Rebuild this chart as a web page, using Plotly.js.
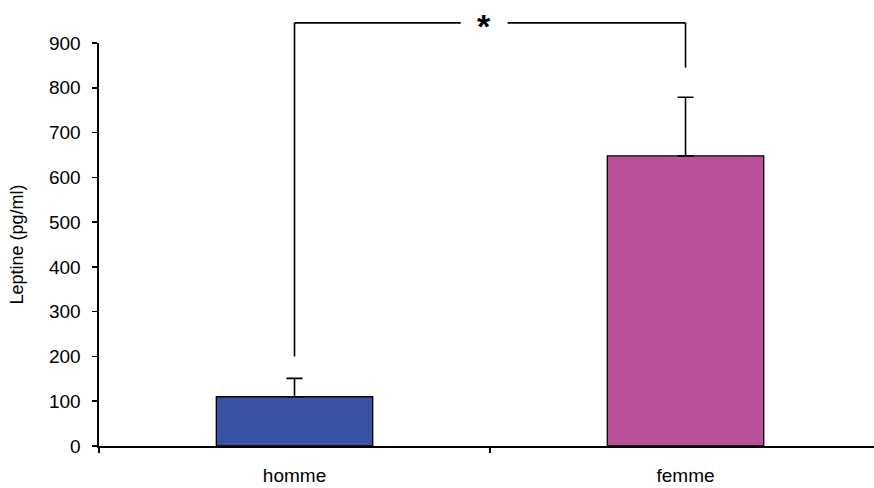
<!DOCTYPE html>
<html>
<head>
<meta charset="utf-8">
<script src="https://cdn.plot.ly/plotly-3.0.1.min.js"></script>
<style>html,body{margin:0;padding:0;background:#fff;}#chart{width:874px;height:488px;}</style>
</head>
<body>
<div id="chart"></div>
<script>
// Data
const categories = ["homme", "femme"];
const leptine = [110, 648];          // mean (pg/ml)
const errorPlus = [41, 131];         // upper error bar
const barColors = ["#3953A4", "#B8519A"];
const yTicks = [0, 100, 200, 300, 400, 500, 600, 700, 800, 900];

// significance bracket (values in pg/ml, categories indices)
const bracketFeet = [200, 845];      // lower end of left / right legs
const bracketTop = 945;
const starLabel = "*";

const yMax = 900;
const xRange = [-0.5, 1.482];
const xBoundaries = [-0.5, 0.5];     // category boundaries with tick marks
const font = "Liberation Sans, Arial, sans-serif";

// helpers converting data to paper coords (same mapping as the axes)
const px = c => (c - xRange[0]) / (xRange[1] - xRange[0]);
const py = v => v / yMax;

const trace = {
  type: "bar",
  x: categories,
  y: leptine,
  width: 0.4,
  marker: { color: barColors, line: { color: "#000", width: 1.3 } },
  error_y: {
    type: "data", array: errorPlus, arrayminus: [0, 0], symmetric: false,
    color: "#000", thickness: 1.6, width: 8
  },
  hoverinfo: "skip"
};

// invisible trace on an overlay axis to carry the boundary tick marks
const tickTrace = {
  type: "scatter", mode: "markers", x: xBoundaries, y: [0, 0],
  xaxis: "x2", yaxis: "y", marker: { opacity: 0 }, hoverinfo: "skip"
};

const mid = 0.485, gap = 0.06;
const lineStyle = { color: "#000", width: 1.6 };
const shapes = [
  { type: "line", xref: "paper", yref: "paper", x0: px(0), x1: px(0), y0: py(bracketFeet[0]), y1: py(bracketTop), line: lineStyle },
  { type: "line", xref: "paper", yref: "paper", x0: px(0), x1: px(mid - gap), y0: py(bracketTop), y1: py(bracketTop), line: lineStyle },
  { type: "line", xref: "paper", yref: "paper", x0: px(mid + gap), x1: px(1), y0: py(bracketTop), y1: py(bracketTop), line: lineStyle },
  { type: "line", xref: "paper", yref: "paper", x0: px(1), x1: px(1), y0: py(bracketTop), y1: py(bracketFeet[1]), line: lineStyle }
];

const layout = {
  width: 874, height: 488,
  margin: { l: 99, r: 0, t: 43, b: 42, pad: 0 },
  paper_bgcolor: "#fff", plot_bgcolor: "#fff",
  showlegend: false,
  font: { family: font, size: 19, color: "#000" },
  xaxis: {
    type: "category", range: xRange, fixedrange: true,
    showline: true, linecolor: "#000", linewidth: 1.6,
    ticks: "", ticklabelstandoff: 12, showgrid: false, zeroline: false
  },
  xaxis2: {
    overlaying: "x", side: "bottom", range: xRange, fixedrange: true,
    tickvals: xBoundaries, showticklabels: false,
    ticks: "outside", ticklen: 6, tickcolor: "#000", tickwidth: 1.6,
    showline: false, showgrid: false, zeroline: false
  },
  yaxis: {
    range: [0, yMax], tickvals: yTicks, fixedrange: true,
    showline: true, linecolor: "#000", linewidth: 1.6,
    ticks: "outside", ticklen: 5, tickcolor: "#000", tickwidth: 1.6,
    ticklabelstandoff: 8, showgrid: false, zeroline: false,
    title: { text: "Leptine (pg/ml)", font: { size: 18 }, standoff: 20 }
  },
  shapes: shapes,
  annotations: [{
    xref: "paper", yref: "paper", x: px(mid), y: py(bracketTop),
    text: "<b>" + starLabel + "</b>", showarrow: false,
    font: { size: 34, family: font, color: "#000" },
    xanchor: "center", yanchor: "middle", yshift: -3
  }]
};

Plotly.newPlot("chart", [trace, tickTrace], layout, { displayModeBar: false, staticPlot: true });
</script>
</body>
</html>
